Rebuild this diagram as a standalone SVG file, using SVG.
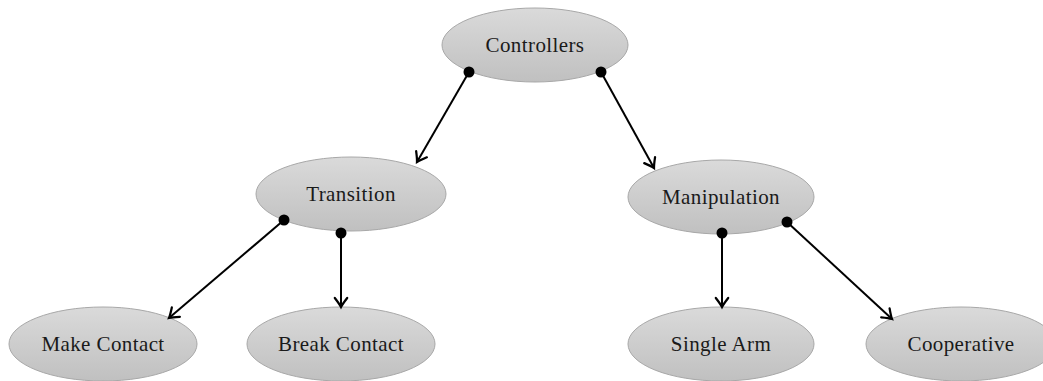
<svg xmlns="http://www.w3.org/2000/svg" width="1043" height="381" viewBox="0 0 1043 381">
<style>
.node ellipse{fill:url(#g);stroke:#a8a8a8;stroke-width:1}
.node text{font-family:"Liberation Serif","Times New Roman",serif;font-size:21px;letter-spacing:0.4px;fill:#1a1a1a;text-anchor:middle}
.edge{stroke:#000;stroke-width:2;fill:none;marker-end:url(#arr)}
.dot{fill:#000}
</style>
<defs>
<linearGradient id="g" x1="0" y1="0" x2="0" y2="1">
<stop offset="0" stop-color="#dadada"/>
<stop offset="1" stop-color="#c0c0c0"/>
</linearGradient>
<marker id="arr" markerUnits="userSpaceOnUse" markerWidth="18" markerHeight="18" viewBox="-10 -8 12 16" refX="0" refY="0" orient="auto">
<path d="M-8,-5.5 Q-2.5,-1.3 0,0 Q-2.5,1.3 -8,5.5" fill="none" stroke="#000" stroke-width="2" stroke-linecap="round"/>
</marker>
</defs>
<g id="controllers" class="node"><ellipse cx="535" cy="45" rx="93" ry="37"/><text x="535" y="52">Controllers</text></g>
<g id="transition" class="node"><ellipse cx="351" cy="194" rx="95" ry="37"/><text x="351" y="201">Transition</text></g>
<g id="manipulation" class="node"><ellipse cx="721" cy="197" rx="93" ry="37"/><text x="721" y="204">Manipulation</text></g>
<g id="make-contact" class="node"><ellipse cx="103" cy="344" rx="94" ry="37"/><text x="103" y="351">Make Contact</text></g>
<g id="break-contact" class="node"><ellipse cx="341" cy="344" rx="94" ry="37"/><text x="341" y="351">Break Contact</text></g>
<g id="single-arm" class="node"><ellipse cx="721" cy="344" rx="93" ry="37"/><text x="721" y="351">Single Arm</text></g>
<g id="cooperative" class="node"><ellipse cx="961" cy="344" rx="95" ry="37"/><text x="961" y="351">Cooperative</text></g>
<g id="connectors">
<line class="edge" x1="469" y1="72" x2="417" y2="162"/>
<circle class="dot" cx="469" cy="72" r="5.5"/>
<line class="edge" x1="601" y1="72" x2="654" y2="168"/>
<circle class="dot" cx="601" cy="72" r="5.5"/>
<line class="edge" x1="284" y1="220" x2="169" y2="318"/>
<circle class="dot" cx="284" cy="220" r="5.5"/>
<line class="edge" x1="341" y1="233" x2="341" y2="307"/>
<circle class="dot" cx="341" cy="233" r="5.5"/>
<line class="edge" x1="722" y1="233" x2="722" y2="307"/>
<circle class="dot" cx="722" cy="233" r="5.5"/>
<line class="edge" x1="787" y1="222" x2="892" y2="319"/>
<circle class="dot" cx="787" cy="222" r="5.5"/>
</g>
</svg>
